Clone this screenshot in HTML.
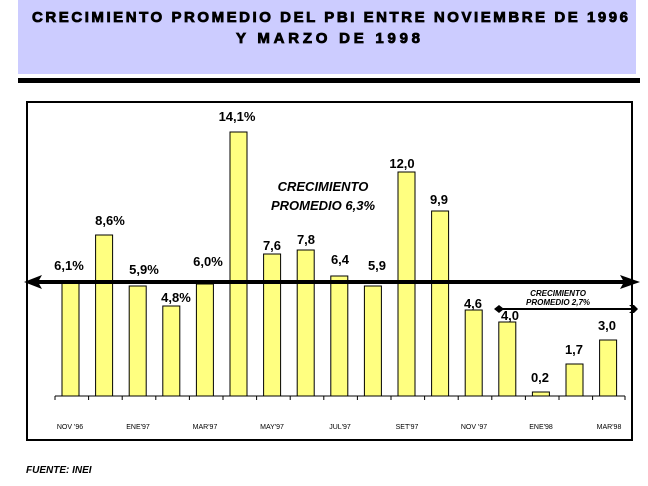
<!DOCTYPE html>
<html><head><meta charset="utf-8"><style>
html,body{margin:0;padding:0;background:#fff;}
svg{display:block;}
text{font-family:"Liberation Sans",sans-serif;}
</style></head><body>
<svg width="648" height="486" viewBox="0 0 648 486">
<rect x="18" y="0" width="618" height="74" fill="#ccccff"/>
<text x="32" y="22" font-size="15" font-weight="bold" textLength="596" lengthAdjust="spacing" stroke="#000" stroke-width="0.8">CRECIMIENTO PROMEDIO DEL PBI ENTRE NOVIEMBRE DE 1996</text>
<text x="236" y="43" font-size="15" font-weight="bold" textLength="184" lengthAdjust="spacing" stroke="#000" stroke-width="0.8">Y  MARZO DE  1998</text>
<rect x="18" y="78" width="622" height="5" fill="#000"/>
<rect x="27" y="102" width="605" height="338" fill="none" stroke="#000" stroke-width="2"/>
<g fill="#ffff80" stroke="#000" stroke-width="1">
<rect x="62" y="282" width="17" height="114"/>
<rect x="95.6" y="235" width="17" height="161"/>
<rect x="129.2" y="286" width="17" height="110"/>
<rect x="162.8" y="306" width="17" height="90"/>
<rect x="196.4" y="284" width="17" height="112"/>
<rect x="230" y="132" width="17" height="264"/>
<rect x="263.6" y="254" width="17" height="142"/>
<rect x="297.2" y="250" width="17" height="146"/>
<rect x="330.8" y="276" width="17" height="120"/>
<rect x="364.4" y="286" width="17" height="110"/>
<rect x="398" y="172" width="17" height="224"/>
<rect x="431.6" y="211" width="17" height="185"/>
<rect x="465.2" y="310" width="17" height="86"/>
<rect x="498.8" y="322" width="17" height="74"/>
<rect x="532.4" y="392" width="17" height="4"/>
<rect x="566" y="364" width="17" height="32"/>
<rect x="599.6" y="340" width="17" height="56"/>
</g>
<line x1="55" y1="396" x2="625" y2="396" stroke="#000" stroke-width="1"/>
<g stroke="#000" stroke-width="1">
<line x1="55" y1="396" x2="55" y2="400"/><line x1="88.6" y1="396" x2="88.6" y2="400"/><line x1="122.2" y1="396" x2="122.2" y2="400"/><line x1="155.8" y1="396" x2="155.8" y2="400"/><line x1="189.4" y1="396" x2="189.4" y2="400"/><line x1="223" y1="396" x2="223" y2="400"/><line x1="256.6" y1="396" x2="256.6" y2="400"/><line x1="290.2" y1="396" x2="290.2" y2="400"/><line x1="323.8" y1="396" x2="323.8" y2="400"/><line x1="357.4" y1="396" x2="357.4" y2="400"/><line x1="391" y1="396" x2="391" y2="400"/><line x1="424.6" y1="396" x2="424.6" y2="400"/><line x1="458.2" y1="396" x2="458.2" y2="400"/><line x1="491.8" y1="396" x2="491.8" y2="400"/><line x1="525.4" y1="396" x2="525.4" y2="400"/><line x1="559" y1="396" x2="559" y2="400"/><line x1="592.6" y1="396" x2="592.6" y2="400"/><line x1="625" y1="396" x2="625" y2="400"/>
</g>
<g font-size="7" text-anchor="middle">
<text x="70" y="429">NOV '96</text><text x="138" y="429">ENE'97</text><text x="205" y="429">MAR'97</text><text x="272" y="429">MAY'97</text><text x="340" y="429">JUL'97</text><text x="407" y="429">SET'97</text><text x="474" y="429">NOV '97</text><text x="541" y="429">ENE'98</text><text x="609" y="429">MAR'98</text>
</g>
<rect x="34" y="280" width="598" height="4" fill="#000"/>
<polygon points="24,282 42,275 38,282 42,289" fill="#000"/>
<polygon points="640,282 620,275 624,282 620,289" fill="#000"/>
<rect x="496" y="308" width="138" height="2" fill="#000"/>
<polygon points="494,309 499,305 504,309 499,313" fill="#000"/>
<polygon points="634,309 629,305 634,305 638,309 634,313 629,313" fill="#000"/>
<g font-size="13" font-weight="bold" text-anchor="middle">
<text x="69" y="270">6,1%</text><text x="110" y="225">8,6%</text><text x="144" y="274">5,9%</text><text x="176" y="302">4,8%</text><text x="208" y="266">6,0%</text><text x="237" y="121">14,1%</text><text x="272" y="250">7,6</text><text x="306" y="244">7,8</text><text x="340" y="264">6,4</text><text x="377" y="270">5,9</text><text x="402" y="168">12,0</text><text x="439" y="204">9,9</text><text x="473" y="308">4,6</text><text x="510" y="320">4,0</text><text x="540" y="382">0,2</text><text x="574" y="354">1,7</text><text x="607" y="330">3,0</text>
</g>
<g font-size="13" font-weight="bold" font-style="italic" text-anchor="middle">
<text x="323" y="191">CRECIMIENTO</text><text x="323" y="210">PROMEDIO 6,3%</text>
</g>
<g font-size="8" font-weight="bold" font-style="italic" text-anchor="middle">
<text x="558" y="296">CRECIMIENTO</text><text x="558" y="305">PROMEDIO 2,7%</text>
</g>
<text x="26" y="473" font-size="10" font-weight="bold" font-style="italic">FUENTE: INEI</text>
</svg>
</body></html>
